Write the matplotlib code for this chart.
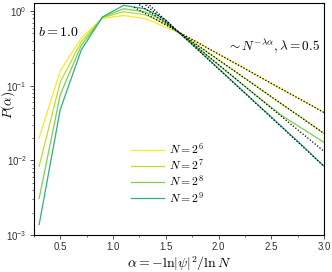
import matplotlib
matplotlib.use("Agg")
import matplotlib.pyplot as plt
import numpy as np
from matplotlib.ticker import MultipleLocator, LogLocator, NullFormatter

plt.rcParams['font.family'] = ['Liberation Sans', 'DejaVu Sans']
plt.rcParams['mathtext.fontset'] = 'cm'

alpha = [0.3, 0.5, 0.7, 0.9, 1.1, 1.3, 1.4, 1.5, 1.6, 1.8, 2.0, 2.2, 2.4, 2.6, 2.8, 3.0]
P_N6 = [0.0200, 0.158, 0.437, 0.794, 0.871, 0.794, 0.700, 0.603, 0.531, 0.380, 0.263, 0.186, 0.129, 0.0891, 0.0631, 0.0437]
P_N7 = [0.00832, 0.112, 0.389, 0.813, 0.977, 0.891, 0.776, 0.661, 0.537, 0.347, 0.221, 0.141, 0.0891, 0.0562, 0.0363, 0.0229]
P_N8 = [0.00309, 0.0759, 0.347, 0.822, 1.072, 0.977, 0.841, 0.708, 0.543, 0.324, 0.191, 0.112, 0.0661, 0.0398, 0.0263, 0.0174]
P_N9 = [0.00138, 0.0479, 0.302, 0.832, 1.189, 1.072, 0.912, 0.759, 0.550, 0.309, 0.170, 0.0933, 0.0513, 0.0282, 0.0155, 0.00832]
series = [P_N6, P_N7, P_N8, P_N9]
labels = [r'$N=2^6$', r'$N=2^7$', r'$N=2^8$', r'$N=2^9$']
colors = ['#fde725', '#bddf26', '#7ad151', '#2eb07f']

# power-law fits ~ N^{-lambda alpha}: endpoints of fitted lines
fit_alpha = [1.2, 3.0]
fit_N6 = [1.12, 0.0437]
fit_N7 = [1.36, 0.0229]
fit_N8 = [1.61, 0.0132]
fit_N9 = [1.85, 0.00832]
fits = [fit_N6, fit_N7, fit_N8, fit_N9]

fig = plt.figure(figsize=(3.32, 2.72), dpi=100)
ax = fig.add_axes([0.102, 0.136, 0.874, 0.853])

for s, lab, c in zip(series, labels, colors):
    ax.plot(alpha, s, color=c, lw=0.9, label=lab)
for f in fits:
    ax.plot(fit_alpha, f, color='black', lw=0.9, ls=(0, (1, 1.5)))

ax.set_yscale('log')
ax.set_xlim(0.25, 3.0)
ax.set_ylim(1e-3, 1.28)
ax.xaxis.set_major_locator(MultipleLocator(0.5))
ax.xaxis.set_minor_locator(MultipleLocator(0.25))
ax.yaxis.set_major_locator(LogLocator(base=10, numticks=10))
ax.yaxis.set_minor_locator(LogLocator(base=10, subs=np.arange(2, 10) * 0.1 * 10, numticks=20))
ax.yaxis.set_minor_formatter(NullFormatter())
ax.tick_params(which='major', direction='out', length=3, width=0.6, labelsize=7, pad=2, colors='#333333')
ax.tick_params(which='minor', direction='out', length=1.5, width=0.5, colors='#333333')
for sp in ax.spines.values():
    sp.set_linewidth(0.8)

ax.set_xlabel(r'$\alpha=-\ln|\psi|^2/\ln N$', fontsize=10, labelpad=2)
ax.set_ylabel(r'$P(\alpha)$', fontsize=9.5)
ax.yaxis.set_label_coords(-0.058, 0.56)

ax.text(0.015, 0.875, r'$b=1.0$', transform=ax.transAxes, fontsize=10, va='center', ha='left')
ax.text(0.665, 0.815, r'$\sim N^{-\lambda\alpha},\lambda=0.5$', transform=ax.transAxes,
        fontsize=9.5, va='center', ha='left')

ax.legend(loc='center', bbox_to_anchor=(0.46, 0.265), frameon=False, fontsize=8.5,
          handlelength=2.8, labelspacing=0.1, handletextpad=0.4, borderpad=0.2)

fig.savefig('out.png', dpi=100)
